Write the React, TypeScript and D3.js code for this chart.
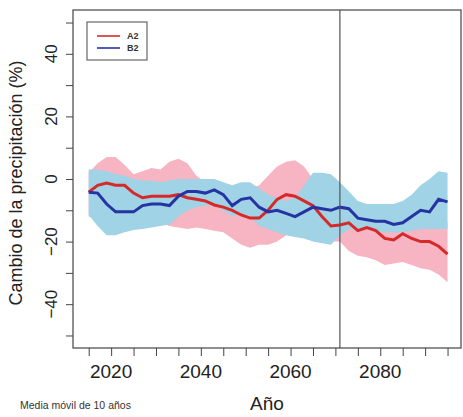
import React, { useEffect, useRef } from "react";
import * as d3 from "d3";

// odd years, 2015..2095
const years = d3.range(2015, 2096, 2);

// 10-year moving mean, A2 scenario
const a2Mean = [-4.2, -2, -1.3, -2, -2, -4.5, -6, -5.5, -5.5, -5.5, -5, -6, -6.5, -7, -8.3, -9, -10, -11.5, -12.5, -12.5, -10, -6.5, -5, -5.5, -7, -8.5, -12, -15, -14.7, -14, -16.5, -15.5, -16.5, -19, -19.5, -17.5, -19, -20, -20, -21.5, -24];
const a2Upper = [2, 5, 7, 7, 4.5, 1.5, 2.5, 3.5, 3, 5.5, 6.5, 5, 1, -1, -2, -3, -3, -3, -3, -2, 1, 4, 5.5, 6, 4, 0, -3, -5, -7, -8, -9, -10, -10, -11, -11, -11, -11, -11, -12, -12, -14];
const a2Lower = [-12, -13, -13, -12, -12, -13, -14, -14, -14, -15, -15.5, -16, -15.5, -16, -16.5, -17, -19, -21, -22, -21, -21, -20, -18, -17, -18, -19, -19.5, -20, -20, -23, -24.5, -25, -26, -27.5, -27, -26.5, -27.5, -28.5, -29, -30.5, -33];

// B2 scenario
const b2Mean = [-4.2, -4.5, -8, -10.5, -10.5, -10.5, -8.5, -8, -8, -8.5, -5.5, -4, -4, -4.5, -3.5, -5, -8.5, -6.5, -6, -9, -10.5, -10, -11, -12, -10.5, -9, -9.5, -10, -9, -9.5, -12.5, -13, -13.5, -13.5, -14.5, -14, -12, -10, -10.5, -6.5, -7.3];
const b2Upper = [3, 3, 2.5, 1.5, 1, 0, -0.5, -0.5, -1, -0.5, 0, 0, 0, 0, 0, -1, -2, -1, -1, -3, -5, -6, -7, -6, -2, 2, 2, 1.5, -1, -4, -7, -8, -8, -8, -8, -7, -5, -2, 0, 2.5, 2];
const b2Lower = [-11.5, -15, -18, -18, -17, -16.3, -16, -15.5, -15, -14.5, -12, -10, -9, -8.5, -8.5, -10, -12, -11, -12, -15, -16, -17, -18, -18.5, -19, -20, -20.5, -21, -18, -16, -16, -16, -17, -17, -17, -17, -16.5, -16, -16, -16, -16];

const yTicks = [-50, -40, -30, -20, -10, 0, 10, 20, 30, 40, 50];
const yLabels = [-40, -20, 0, 20, 40];
const xTicks = d3.range(2015, 2096, 5);
const xLabels = [2020, 2040, 2060, 2080];
const markerYear = 2071;
const legendItems = ["A2", "B2"];

const W = 463, H = 417;
const margin = { top: 10, right: 2, bottom: 69, left: 73 };
const RED = "#d62a2a", BLUE = "#2533a3";
const PINK = "#f7b4c2", LIGHTBLUE = "#9fd3e5";

export default function App() {
  const svgRef = useRef<SVGSVGElement>(null);

  useEffect(() => {
    const svg = d3.select(svgRef.current);
    svg.selectAll("*").remove();

    const x = d3.scaleLinear().domain([2011.5, 2098]).range([margin.left, W - margin.right]);
    const y = d3.scaleLinear().domain([-54, 54]).range([H - margin.bottom, margin.top]);
    const font = "Liberation Sans, Arial, sans-serif";

    const band = (lo: number[], hi: number[]) =>
      d3.area<number>().x((d) => x(d)).y0((d, i) => y(lo[i])).y1((d, i) => y(hi[i]))(years);
    const line = (v: number[]) => d3.line<number>().x((d) => x(d)).y((d, i) => y(v[i]))(years);

    svg.append("path").attr("d", band(a2Lower, a2Upper)).attr("fill", PINK);
    svg.append("path").attr("d", band(b2Lower, b2Upper)).attr("fill", LIGHTBLUE);

    svg.append("path").attr("d", line(a2Mean)).attr("fill", "none").attr("stroke", RED).attr("stroke-width", 3);
    svg.append("path").attr("d", line(b2Mean)).attr("fill", "none").attr("stroke", BLUE).attr("stroke-width", 3);

    // vertical marker
    svg.append("line")
      .attr("x1", x(markerYear)).attr("x2", x(markerYear))
      .attr("y1", margin.top).attr("y2", H - margin.bottom)
      .attr("stroke", "#555").attr("stroke-width", 1.2);

    // frame
    svg.append("rect")
      .attr("x", margin.left).attr("y", margin.top)
      .attr("width", W - margin.left - margin.right)
      .attr("height", H - margin.top - margin.bottom)
      .attr("fill", "none").attr("stroke", "#444").attr("stroke-width", 1.2);

    // y axis
    const yAxis = svg.append("g")
      .attr("transform", `translate(${margin.left},0)`)
      .call(d3.axisLeft(y).tickValues(yTicks).tickSize(7).tickFormat(() => ""));
    yAxis.select(".domain").remove();
    yAxis.selectAll("line").attr("stroke", "#444");

    svg.selectAll(".ylab")
      .data(yLabels)
      .enter().append("text")
      .attr("transform", (d) => `translate(57,${y(d)}) rotate(-90)`)
      .attr("text-anchor", "middle")
      .attr("font-family", font)
      .attr("font-size", 17)
      .attr("fill", "#222")
      .text((d) => (d < 0 ? `\u2212${-d}` : `${d}`));

    // x axis
    const xAxis = svg.append("g")
      .attr("transform", `translate(0,${H - margin.bottom})`)
      .call(d3.axisBottom(x).tickValues(xTicks).tickSize(8).tickFormat(() => ""));
    xAxis.select(".domain").remove();
    xAxis.selectAll("line").attr("stroke", "#444");

    svg.selectAll(".xlab")
      .data(xLabels)
      .enter().append("text")
      .attr("x", (d) => x(d))
      .attr("y", 378)
      .attr("text-anchor", "middle")
      .attr("font-family", font)
      .attr("font-size", 19)
      .attr("fill", "#222")
      .text((d) => d);

    // axis titles
    svg.append("text")
      .attr("transform", `translate(22,${y(0) + 4}) rotate(-90)`)
      .attr("text-anchor", "middle")
      .attr("font-family", font)
      .attr("font-size", 18)
      .attr("fill", "#222")
      .text("Cambio de la precipitación (%)");

    svg.append("text")
      .attr("x", 267).attr("y", 410)
      .attr("text-anchor", "middle")
      .attr("font-family", font)
      .attr("font-size", 19)
      .attr("fill", "#222")
      .text("Año");

    svg.append("text")
      .attr("x", 20).attr("y", 409)
      .attr("font-family", font)
      .attr("font-size", 10.5)
      .attr("fill", "#333")
      .text("Media móvil de 10 años");

    // legend
    const lg = svg.append("g");
    lg.append("rect")
      .attr("x", 87).attr("y", 22).attr("width", 60).attr("height", 38)
      .attr("fill", "white").attr("stroke", "#666").attr("stroke-width", 1.2);
    legendItems.forEach((name, i) => {
      const ly = 36 + i * 12;
      lg.append("line")
        .attr("x1", 97).attr("x2", 120).attr("y1", ly).attr("y2", ly)
        .attr("stroke", i === 0 ? RED : BLUE).attr("stroke-width", 1.6);
      lg.append("text")
        .attr("x", 127).attr("y", ly + 3)
        .attr("font-family", font)
        .attr("font-size", 9)
        .attr("font-weight", "bold")
        .attr("fill", "#333")
        .text(name);
    });
  }, []);

  return (
    <svg ref={svgRef} width={W} height={H} style={{ position: "absolute", left: 0, top: 0, background: "white" }} />
  );
}
